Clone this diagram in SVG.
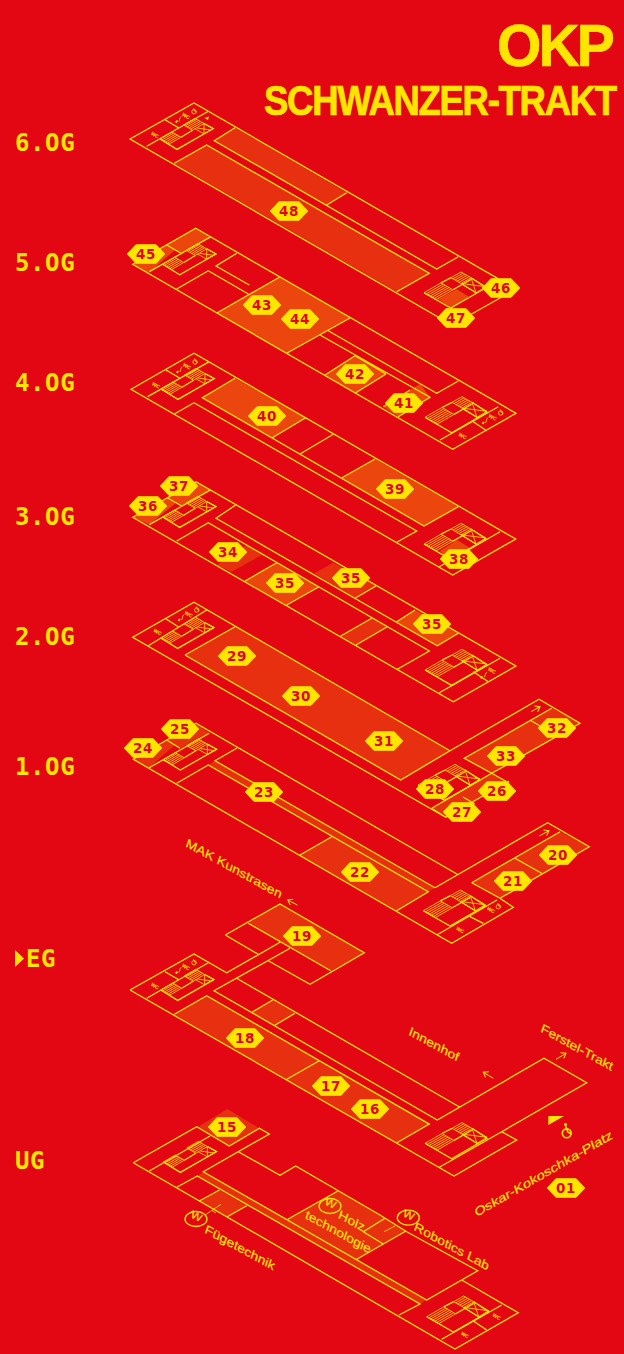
<svg xmlns="http://www.w3.org/2000/svg" xmlns:xlink="http://www.w3.org/1999/xlink" width="624" height="1354" viewBox="0 0 624 1354">
<style>
.l{fill:none;stroke:#ffe600;stroke-width:1.3;stroke-linejoin:miter}
.h{fill:none;stroke:#ffe600;stroke-width:.8}
.s1{fill:#e7300f}
.s2{fill:#ea460e}
.y{fill:#ffe600}
.hx{fill:#ffe600;stroke:#ffe600;stroke-width:.6}
.n{font-family:"DejaVu Sans",sans-serif;font-weight:700;font-size:13.5px;fill:#e30613;text-anchor:middle;letter-spacing:.5px}
.f{font-family:"DejaVu Sans Mono",monospace;font-weight:700;font-size:24px;fill:#ffe600;letter-spacing:.6px}
.t{font-family:"Liberation Sans",Arial,sans-serif;font-weight:700;fill:#ffe600;stroke:#ffe600;stroke-width:.7}
.i{font-family:"Liberation Sans",Arial,sans-serif;font-size:10px;fill:#ffe600;stroke:#ffe600;stroke-width:.12}
.wc{font-family:"Liberation Sans",Arial,sans-serif;font-size:5px;font-weight:700;fill:#ffe600;text-anchor:middle}
</style>
<defs>
<polygon id="hex" points="-19,0 -10,-9.5 10,-9.5 19,0 10,9.5 -10,9.5"/>
<marker id="arr" markerUnits="userSpaceOnUse" markerWidth="10" markerHeight="10" refX="7" refY="4" orient="auto"><path d="M2.5,.8L7,4L2.5,7.2" fill="none" stroke="#ffe600" stroke-width="1"/></marker>
<g id="cw">
<path class="h" d="M0,0L12,-7L21,-1.8L9,5.2ZM1.8,1L13.8,-6M3.6,2.1L15.6,-4.9M5.4,3.1L17.4,-3.9M7.2,4.2L19.2,-2.8"/>
<path class="h" d="M23.5,-14L35,-20.7L44,-15.5L32.5,-8.8ZM25.3,-13L36.8,-19.7M27.1,-12L38.6,-18.7M28.9,-10.9L40.4,-17.6M30.7,-9.9L42.2,-16.6"/>
<path class="h" d="M44,-15.5L53.3,-10.4L44,-5.2L34.7,-10.4M44,-15.5L44,-5.2M37,-11L51,-9"/>
<path class="l" d="M0,0L17,10.4L53.3,-10.4L44,-15.5M21,-1.8L32.5,-8.8"/>
</g>
<g id="ce">
<path class="h" d="M0,0L17,-9.8L29,-2.9L12,6.9ZM2,1.2L19,-8.6M4,2.3L21,-7.5M6,3.5L23,-6.3M8,4.6L25,-5.2M10,5.8L27,-4"/>
<path class="h" d="M27,-15L37,-20.7L47,-15L37,-9.2ZM29,-13.8L39,-19.6M31,-12.7L41,-18.4M33,-11.5L43,-17.3M35,-10.4L45,-16.1"/>
<path class="h" d="M47,-15L62,-6L52,0L37,-9.2M47,-15L52,0M37,-9.2L62,-6"/>
<path class="l" d="M0,0L26.7,15.4L62,-5L47,-15M17,-9.8L27,-15M29,-2.9L47,-13.3M37,-9.2L52,0"/>
</g>
<g id="whl"><circle cx="0" cy="0" r="2.2" class="h"/><path class="h" d="M-.5,-3.5L.6,-.6L2.6,.4"/></g>
<g id="acc">
<path class="y" d="M-10,5.7l2,-1.6l1,1.2l-1.6,2z"/>
<path class="h" d="M-6,5.6L-4.8,1.4L-3.6,.6"/>
<text class="wc" transform="translate(0,1.5) rotate(30)">WC</text>
<use xlink:href="#whl" href="#whl" x="9" y="-4.3"/>
</g>
<text id="wct" class="wc" transform="translate(0,1.5) rotate(30)">WC</text>
</defs>
<rect width="624" height="1354" fill="#e30613"/>
<g id="title">
<text class="t" transform="translate(497,66) scale(.95,1)" font-size="60" letter-spacing="-3">OKP</text>
<text class="t" transform="translate(264,115) scale(.87,1)" font-size="42" letter-spacing="-1.5">SCHWANZER-TRAKT</text>
</g>
<g id="floor-labels">
<text class="f" x="15" y="151">6.OG</text>
<text class="f" x="15" y="271">5.OG</text>
<text class="f" x="15" y="391">4.OG</text>
<text class="f" x="15" y="525">3.OG</text>
<text class="f" x="15" y="645">2.OG</text>
<text class="f" x="15" y="775">1.OG</text>
<polygon class="y" points="15,950 24,958.5 15,967"/>
<text class="f" x="26" y="967">EG</text>
<text class="f" x="15" y="1169">UG</text>
</g>
<g id="floor-6">
<polygon class="s1" points="235,127.7 346.7,192.7 326.7,205 214.3,140.7"/>
<polygon class="s1" points="206.7,145 429.3,273.3 396.7,291.7 174.3,163.3"/>
<polygon class="s2" points="438.3,299.3 456.7,289.3 469,296.7 451.7,308.3"/>
<path class="l" d="M130,139L194,103L516,289L452,325ZM146.7,146.3L208.3,111.3M165,119.7L179,128M235,127.7L214.3,140.7L436.7,269L458.3,256.7M174.3,163.3L206.7,145L429.3,273.3L396.7,291.7M346.7,192.7L326.7,205"/>
<use xlink:href="#cw" href="#cw" x="160" y="139"/>
<use xlink:href="#ce" href="#ce" x="424" y="292.7"/>
<use xlink:href="#acc" href="#acc" x="185" y="116"/>
<use xlink:href="#wct" href="#wct" x="154" y="135"/>
<polygon class="y" points="204.5,118 209,116.5 208,120"/>
</g>
<g id="floor-5">
<polygon class="s2" points="195.7,228.3 210,237.7 181,253.3 166.7,245"/>
<polygon class="s2" points="132.7,264.3 166.7,245 175,250 148.3,273.3"/>
<polygon class="s2" points="279.3,277.3 350,318 286.7,353.3 217.3,312.7"/>
<polygon class="s2" points="355,355.7 386,374 355,393.3 325,375"/>
<polygon class="s2" points="410,390 420,384 430,397 398.3,416.7 383.3,406.7"/>
<path class="l" d="M132.7,264.3L195.7,228.3L516,413.3L452.7,449.3ZM149.4,271.6L211,236.6M166.7,245L181,253.3M236.7,253.3L216,266L249.3,285M208.3,270.7L176.7,289M208.3,270.7L248.3,294M279.3,277.3L217.3,312.7M350,318L286.7,353.3M328.3,330.7L436.7,393.3L458.3,381M320,335L430,397.3L398.3,416.7M355,355.7L325,375M386,374L355,393.3M355,355.7L386,374M410,390L383.3,406.7M440,440L498.3,406.7M473.3,421.7L486.7,430.7"/>
<use xlink:href="#cw" href="#cw" x="162.7" y="264.3"/>
<use xlink:href="#ce" href="#ce" x="425" y="417.3"/>
<use xlink:href="#acc" href="#acc" x="491.7" y="417.3"/>
<use xlink:href="#wct" href="#wct" x="461.7" y="436"/>
</g>
<g id="floor-4">
<polygon class="s2" points="235,378.3 305.7,417.7 272.3,437.7 202.3,397.7"/>
<polygon class="s2" points="375,459 458.3,506.7 424,526 341,478.3"/>
<polygon class="s2" points="440,551 457,540 470,548 450,562"/>
<path class="l" d="M131,389.3L194,353.3L515.7,539L452.7,575ZM147.7,396.6L209.3,361.6M166,370L180,378.3M235,378.3L202.3,397.7L424,526L458.3,506.7M305.7,417.7L272.3,437.7M333.3,434.3L300,454M375,459L341,478.3M194,402.7L174.3,414M194,402.7L416.7,531L396.7,542.3M439.3,566.7L500,531.7"/>
<use xlink:href="#cw" href="#cw" x="161" y="389"/>
<use xlink:href="#ce" href="#ce" x="424" y="544"/>
<use xlink:href="#acc" href="#acc" x="186" y="366.3"/>
<use xlink:href="#wct" href="#wct" x="155" y="385.3"/>
</g>
<g id="floor-3">
<polygon class="s2" points="196,481.7 211,490 181.7,506 167.7,498"/>
<polygon class="s2" points="132.7,517.3 167.7,498 176,503 149.4,524.6"/>
<polygon class="s1" points="246.7,545 261.7,555 231.7,571.7 216.7,565"/>
<polygon class="s2" points="245,581 276.7,562.7 319,586.7 286.7,605"/>
<polygon class="s1" points="333.3,562.7 314.3,573.3 355,598.3 376,586"/>
<polygon class="s1" points="371.7,618.3 340.7,636 356,645 387.3,626.7"/>
<polygon class="s2" points="415,610 396.7,621.7 437.3,645.7 458.3,633.3"/>
<path class="l" d="M132.7,517.3L196,481.7L516,666L453.3,701.7ZM149.4,524.6L211,489.6M167.7,498L181.7,506M236.7,504.3L216,518.3L437.3,645.7L458.3,633.3M176.7,541L208.3,522.7L429.3,651L397.3,669.3M245,581L276.7,562.7M286.7,605L319,586.7M355,598.3L376,586M371.7,618.3L340.7,636M387.3,626.7L356,645M415,610L396.7,621.7M439.3,692.7L500,658.3M473.3,671.7L488.3,681.7"/>
<use xlink:href="#cw" href="#cw" x="162.7" y="517"/>
<use xlink:href="#ce" href="#ce" x="425" y="670"/>
<path class="y" d="M480,677.5l2,-1.6l1,1.2l-1.6,2z"/>
<path class="h" d="M484.5,677L485.8,673L487,672"/>
<text class="wc" transform="translate(491,672) rotate(30)">WC</text>
</g>
<g id="floor-2">
<polygon class="s1" points="185,655 235,626.7 450,750.7 400.7,780"/>
<polygon class="s1" points="464.3,758.3 530,720 551.7,708.3 580,723.3 491.7,773.3"/>
<polygon class="s1" points="431.7,808.3 491.7,773.3 506.7,781.7 445.7,817.3"/>
<path class="l" d="M450,750.7L194,602.3L132.7,637.3L445.7,817.3L509,781M450,750.7L539,699.3L580,723.3L491.7,773.3L464.3,758.3L551.7,708.3M185,655L235,626.7M185,655L400.7,780L450,750.7M148.3,645.7L206.7,610M165,618.3L178.3,626.7M530,720L541.7,727M431.7,808.3L491.7,773.3L509,783M431.7,808.3L445.7,817.3M463,797L475,804"/>
<use xlink:href="#cw" href="#cw" x="160.7" y="638"/>
<use xlink:href="#ce" href="#ce" x="418" y="785"/>
<use xlink:href="#acc" href="#acc" x="187.7" y="614.3"/>
<use xlink:href="#wct" href="#wct" x="156.7" y="632"/>
</g>
<g id="floor-1">
<polygon class="s1" points="196,723.3 209.3,733.3 180,748.3 166.7,740"/>
<polygon class="s1" points="133.3,759.3 166.7,740 175,745 148.3,768.3"/>
<polygon class="s1" points="208.3,765 215,760.7 435,887.7 428.3,891.7"/>
<polygon class="s1" points="331.7,836.7 428.3,891.7 396.7,910.7 300,855"/>
<polygon class="s1" points="471.7,882.7 515,858.3 560,831.7 589.3,846.7 500,898.3"/>
<path class="l" d="M435,887.7L547.7,822.7L589.3,846.7L500,898.3L513.3,907.3L451.7,943.3L133.3,759.3L196,723.3L457.3,874.3M148.3,768.3L209.3,733.3M166.7,740L180,748.3M236.7,748.3L215,760.7L435,887.7M176.7,783.3L208.3,765L428.3,891.7L396.7,910.7M300,855L331.7,836.7M471.7,882.7L560,831.7M471.7,882.7L500,898.3M515,858.3L541.7,873.3M436.7,935L497,900M470,916.7L483.3,923.3"/>
<use xlink:href="#cw" href="#cw" x="163.3" y="759.6"/>
<use xlink:href="#ce" href="#ce" x="423.3" y="910.7"/>
<use xlink:href="#wct" href="#wct" x="459.3" y="930"/>
<use xlink:href="#wct" href="#wct" x="490" y="910"/>
<use xlink:href="#whl" href="#whl" x="498.3" y="906.7"/>
</g>
<g id="floor-eg">
<polygon class="s1" points="248.3,923.3 280,904 364.3,952.7 330.7,970.7"/>
<polygon class="s1" points="206.7,995.7 429.3,1124.1 396.9,1142.7 174.3,1014.3"/>
<polygon class="s1" points="272.7,1000 295,1013.3 274,1025.7 251,1012.7"/>
<path class="l" d="M130,990L194,954L226.7,972.7L280,942.3M130,990L454,1176L516.7,1140L501.7,1131.7L586.7,1082.7L544,1058.3L437.3,1120L214,990.7L290,948.3M225.3,935L280,904L364.3,952.7L310,984.3L268.3,960.7M225.3,935L258.3,954.3M248.3,923.3L330.7,970.7M236.7,978.3L460,1107.3M146.7,998.3L208.3,962.7M165,971.7L179.3,980M174.3,1014.3L206.7,995.7L429.3,1124.1L396.9,1142.7M319.3,1060.7L286.7,1079.3M272.7,1000L251,1012.7M295,1013.3L274,1025.7M439.3,1167.3L501.7,1131.7"/>
<use xlink:href="#cw" href="#cw" x="160.7" y="990"/>
<use xlink:href="#ce" href="#ce" x="425" y="1143.3"/>
<use xlink:href="#acc" href="#acc" x="185" y="967"/>
<use xlink:href="#wct" href="#wct" x="154" y="986"/>
</g>
<g id="floor-ug">
<polygon class="s1" points="197.3,1127.3 227.3,1109 259.3,1128.3 229.3,1146"/>
<polygon class="s1" points="203.3,1171.7 197.3,1176 420,1304 426.7,1300"/>
<polygon class="s1" points="219.3,1190 199.3,1201 227.3,1216.7 246.7,1205.7"/>
<polygon class="s1" points="338.3,1190.7 287.7,1219.3 356.7,1259.3 406,1231"/>
<path class="l" d="M133.3,1162.7L196.7,1126.7L229.3,1146L259.3,1128.3L269.3,1134L203.3,1171.7L426.7,1300L477.7,1270.7L406.7,1231.7L380,1215L295.7,1166L280,1175.3L238.3,1151.7M133.3,1162.7L455,1349L518.3,1312.7L461.7,1280M149.3,1171L210,1136M176.7,1187.3L197.3,1176L420,1304L399,1315M219.3,1190L199.3,1201M246.7,1205.7L227.3,1216.7M338.3,1190.7L287.7,1219.3M406,1231L356.7,1259.3M385,1218.3L363.3,1231.7L383.3,1244M441.7,1339.3L501.7,1305M473.3,1321L486.7,1330"/>
<path class="h" d="M205,1215L221,1204.3M212,1210.5L216,1213M384,1231.7L395,1226"/>
<use xlink:href="#cw" href="#cw" x="163.3" y="1162"/>
<use xlink:href="#ce" href="#ce" x="426.7" y="1316.7"/>
<use xlink:href="#wct" href="#wct" x="464" y="1335"/>
<use xlink:href="#wct" href="#wct" x="495.7" y="1316.7"/>
</g>
<g id="connectors">
<path class="h" style="stroke-width:1" marker-end="url(#arr)" d="M531,711.7L540,706.7"/>
<path class="h" style="stroke-width:1" marker-end="url(#arr)" d="M539.3,836L549,830.7"/>
<path class="h" style="stroke-width:1" marker-end="url(#arr)" d="M297.3,905L287.7,900"/>
<path class="h" style="stroke-width:1" marker-end="url(#arr)" d="M493.3,1078.3L483.3,1072.3"/>
<path class="h" style="stroke-width:1" marker-end="url(#arr)" d="M556,1059.3L566,1053.3"/>
</g>
<g id="labels">
<text class="i" transform="matrix(1.27,.7,-.4,1.15,185,846.2)">MAK Kunstrasen</text>
<text class="i" transform="matrix(1.27,.7,-.4,1.15,407.9,1034.5)">Innenhof</text>
<text class="i" transform="matrix(1.27,.7,-.4,1.15,539.9,1031.6)">Ferstel-Trakt</text>
<text class="i" transform="matrix(1.31,-.756,.4,1.15,476.4,1217.1)">Oskar-Kokoschka-Platz</text>
<text class="i" transform="matrix(1.27,.7,-.4,1.15,204,1232.4)">Fügetechnik</text>
<text class="i" transform="matrix(1.27,.7,-.4,1.15,413.3,1229.7)">Robotics Lab</text>
<text class="i" transform="matrix(1.27,.7,-.4,1.15,337.6,1217.8)">Holz</text>
<text class="i" transform="matrix(1.27,.7,-.4,1.15,304.5,1217.9)">technologie</text>
<ellipse class="l" cx="196" cy="1219" rx="11" ry="7.5"/>
<text class="i" transform="matrix(1.1,.55,-.4,1,190,1217)">W</text>
<ellipse class="l" cx="330" cy="1206" rx="11" ry="7.5"/>
<text class="i" transform="matrix(1.1,.55,-.4,1,324,1204)">W</text>
<ellipse class="l" cx="408.3" cy="1217.7" rx="11" ry="7.5"/>
<text class="i" transform="matrix(1.1,.55,-.4,1,402.3,1215.7)">W</text>
<polygon class="y" points="548.3,1116 564,1116 548.3,1125"/>
<g transform="translate(566.7,1133.3) scale(2)"><use xlink:href="#whl" href="#whl"/></g>
<circle class="y" cx="565.5" cy="1124.5" r="1.5"/>
</g>
<g id="n48"><use href="#hex" xlink:href="#hex" class="hx" x="289" y="211"/><text class="n" x="289" y="216">48</text></g>
<g id="n45"><use href="#hex" xlink:href="#hex" class="hx" x="146" y="254"/><text class="n" x="146" y="259">45</text></g>
<g id="n46"><use href="#hex" xlink:href="#hex" class="hx" x="501" y="288"/><text class="n" x="501" y="293">46</text></g>
<g id="n47"><use href="#hex" xlink:href="#hex" class="hx" x="456" y="318"/><text class="n" x="456" y="323">47</text></g>
<g id="n43"><use href="#hex" xlink:href="#hex" class="hx" x="262" y="305"/><text class="n" x="262" y="310">43</text></g>
<g id="n44"><use href="#hex" xlink:href="#hex" class="hx" x="300" y="319"/><text class="n" x="300" y="324">44</text></g>
<g id="n42"><use href="#hex" xlink:href="#hex" class="hx" x="355" y="374"/><text class="n" x="355" y="379">42</text></g>
<g id="n41"><use href="#hex" xlink:href="#hex" class="hx" x="404" y="403"/><text class="n" x="404" y="408">41</text></g>
<g id="n40"><use href="#hex" xlink:href="#hex" class="hx" x="267" y="416"/><text class="n" x="267" y="421">40</text></g>
<g id="n39"><use href="#hex" xlink:href="#hex" class="hx" x="395" y="489"/><text class="n" x="395" y="494">39</text></g>
<g id="n38"><use href="#hex" xlink:href="#hex" class="hx" x="459" y="559"/><text class="n" x="459" y="564">38</text></g>
<g id="n37"><use href="#hex" xlink:href="#hex" class="hx" x="179" y="486"/><text class="n" x="179" y="491">37</text></g>
<g id="n36"><use href="#hex" xlink:href="#hex" class="hx" x="148" y="506"/><text class="n" x="148" y="511">36</text></g>
<g id="n34"><use href="#hex" xlink:href="#hex" class="hx" x="228" y="552"/><text class="n" x="228" y="557">34</text></g>
<g id="n35a"><use href="#hex" xlink:href="#hex" class="hx" x="285" y="583"/><text class="n" x="285" y="588">35</text></g>
<g id="n35b"><use href="#hex" xlink:href="#hex" class="hx" x="351" y="578"/><text class="n" x="351" y="583">35</text></g>
<g id="n35c"><use href="#hex" xlink:href="#hex" class="hx" x="432" y="624"/><text class="n" x="432" y="629">35</text></g>
<g id="n29"><use href="#hex" xlink:href="#hex" class="hx" x="237" y="656"/><text class="n" x="237" y="661">29</text></g>
<g id="n30"><use href="#hex" xlink:href="#hex" class="hx" x="301" y="696"/><text class="n" x="301" y="701">30</text></g>
<g id="n31"><use href="#hex" xlink:href="#hex" class="hx" x="384" y="741"/><text class="n" x="384" y="746">31</text></g>
<g id="n33"><use href="#hex" xlink:href="#hex" class="hx" x="506" y="756"/><text class="n" x="506" y="761">33</text></g>
<g id="n32"><use href="#hex" xlink:href="#hex" class="hx" x="557" y="728"/><text class="n" x="557" y="733">32</text></g>
<g id="n28"><use href="#hex" xlink:href="#hex" class="hx" x="435" y="789"/><text class="n" x="435" y="794">28</text></g>
<g id="n26"><use href="#hex" xlink:href="#hex" class="hx" x="497" y="791"/><text class="n" x="497" y="796">26</text></g>
<g id="n27"><use href="#hex" xlink:href="#hex" class="hx" x="462" y="812"/><text class="n" x="462" y="817">27</text></g>
<g id="n25"><use href="#hex" xlink:href="#hex" class="hx" x="180" y="729"/><text class="n" x="180" y="734">25</text></g>
<g id="n24"><use href="#hex" xlink:href="#hex" class="hx" x="143" y="748"/><text class="n" x="143" y="753">24</text></g>
<g id="n23"><use href="#hex" xlink:href="#hex" class="hx" x="264" y="792"/><text class="n" x="264" y="797">23</text></g>
<g id="n22"><use href="#hex" xlink:href="#hex" class="hx" x="360" y="872"/><text class="n" x="360" y="877">22</text></g>
<g id="n21"><use href="#hex" xlink:href="#hex" class="hx" x="513" y="881"/><text class="n" x="513" y="886">21</text></g>
<g id="n20"><use href="#hex" xlink:href="#hex" class="hx" x="558" y="855"/><text class="n" x="558" y="860">20</text></g>
<g id="n19"><use href="#hex" xlink:href="#hex" class="hx" x="302" y="936"/><text class="n" x="302" y="941">19</text></g>
<g id="n18"><use href="#hex" xlink:href="#hex" class="hx" x="245" y="1038"/><text class="n" x="245" y="1043">18</text></g>
<g id="n17"><use href="#hex" xlink:href="#hex" class="hx" x="331" y="1086"/><text class="n" x="331" y="1091">17</text></g>
<g id="n16"><use href="#hex" xlink:href="#hex" class="hx" x="370" y="1109"/><text class="n" x="370" y="1114">16</text></g>
<g id="n15"><use href="#hex" xlink:href="#hex" class="hx" x="227" y="1127"/><text class="n" x="227" y="1132">15</text></g>
<g id="n01"><use href="#hex" xlink:href="#hex" class="hx" x="566" y="1188"/><text class="n" x="566" y="1193">01</text></g>
</svg>
